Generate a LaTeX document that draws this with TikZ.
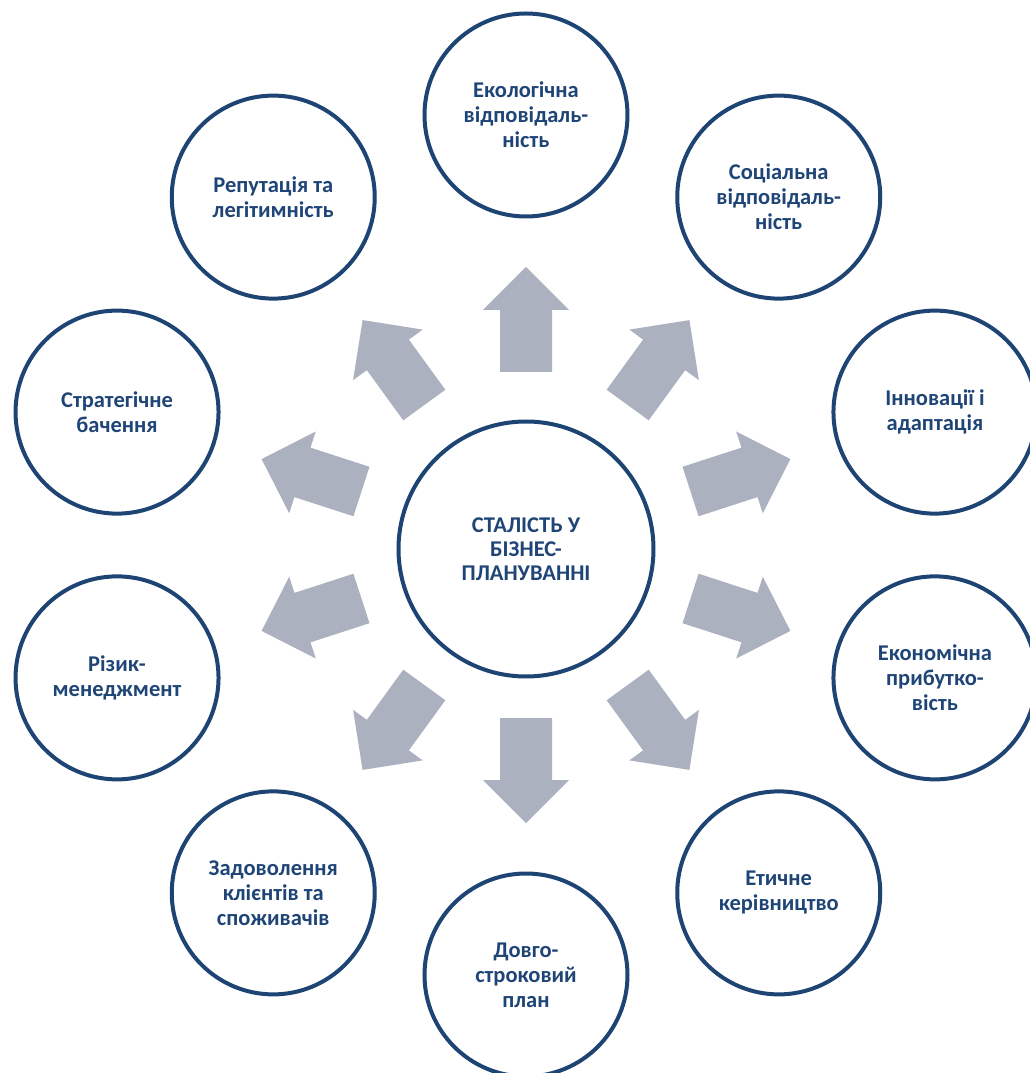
\documentclass[tikz,border=0pt]{standalone}
\usepackage{fontspec}
\setmainfont{Carlito}
\definecolor{ringblue}{HTML}{1E4474}
\definecolor{textblue}{HTML}{1F4577}
\definecolor{arrowgray}{HTML}{ACB1BF}
\begin{document}
\begin{tikzpicture}[x=1pt,y=1pt,
  outer/.style={circle,draw=ringblue,line width=4pt,fill=white,minimum size=203pt,inner sep=0pt,
    text=textblue,align=center,font=\bfseries\fontsize{22.5}{25}\selectfont},
  hub/.style={circle,draw=ringblue,line width=4pt,fill=white,minimum size=255pt,inner sep=0pt,
    text=textblue,align=center,font=\bfseries\fontsize{22.5}{24}\selectfont},
  blockarrow/.style={fill=arrowgray}]
\useasboundingbox (-526,-528) rectangle (504,545);
\node[hub] (c) at (0,-4) {СТАЛІСТЬ У\\БІЗНЕС-\\ПЛАНУВАННІ};
\node[outer] (n1) at (90:430) {Екологічна\\відповідаль-\\ність};
\node[outer] (n2) at (54:430) {Соціальна\\відповідаль-\\ність};
\node[outer] (n3) at (18:430) {Інновації і\\адаптація};
\node[outer] (n4) at (-18:430) {Економічна\\прибутко-\\вість};
\node[outer] (n5) at (-54:430) {Етичне\\керівництво};
\node[outer] (n6) at (-90:430) {Довго-\\строковий\\план};
\node[outer] (n7) at (-126:430) {Задоволення\\клієнтів та\\споживачів};
\node[outer] (n8) at (-162:430) {Різик-\\менеджмент};
\node[outer] (n9) at (162:430) {Стратегічне\\бачення};
\node[outer] (n10) at (126:430) {Репутація та\\легітимність};
\foreach \a in {90,54,18,-18,-54,-90,-126,-162,162,126}{
  \fill[blockarrow,rotate=\a] (173,-26) -- (235,-26) -- (235,-43) -- (278,0) -- (235,43) -- (235,26) -- (173,26) -- cycle;
}
\end{tikzpicture}
\end{document}
